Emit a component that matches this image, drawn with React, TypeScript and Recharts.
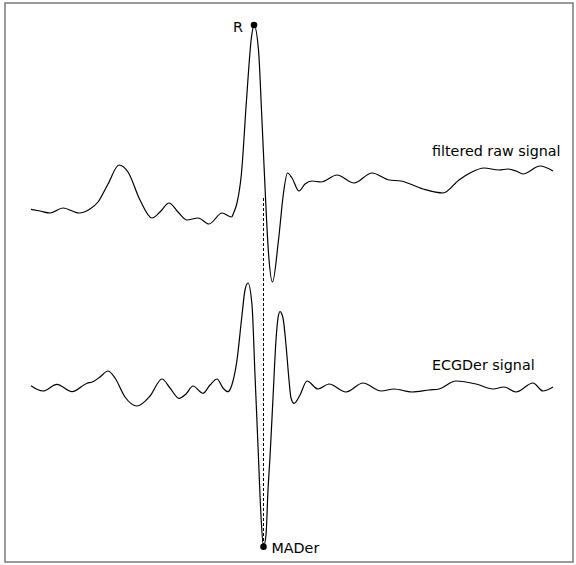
import React from "react";
import {
  ComposedChart,
  Line,
  XAxis,
  YAxis,
  ReferenceDot,
  ReferenceLine,
  ReferenceArea,
} from "recharts";

// time in ms relative to the R peak
const rawTime = [
  -446, -428, -408, -382, -350, -328, -312, -292, -270, -252, -228, -204, -188,
  -170, -152, -134, -112, -90, -64, -45, -40, -34, -25, -15, -5, 0, 9, 15, 22,
  29, 37, 49, 59, 67, 76, 90, 102, 116, 134, 166, 200, 236, 270, 294, 338, 378,
  410, 432, 460, 490, 508, 524, 538, 572, 598,
];
// filtered raw signal (plotted with display offset)
const rawValue = [
  3.527, 3.51, 3.49, 3.54, 3.49, 3.53, 3.6, 3.78, 3.97, 3.9, 3.62, 3.44, 3.5,
  3.59, 3.5, 3.42, 3.44, 3.38, 3.49, 3.45, 3.5, 3.59, 3.89, 4.62, 5.25, 5.37,
  5.12, 4.52, 3.75, 3.09, 2.8, 3.22, 3.69, 3.89, 3.84, 3.71, 3.78, 3.81, 3.8,
  3.87, 3.79, 3.89, 3.82, 3.81, 3.73, 3.69, 3.82, 3.89, 3.94, 3.92, 3.93, 3.91,
  3.88, 3.96, 3.91,
];

const derTime = [
  -446, -422, -394, -364, -334, -322, -308, -292, -278, -258, -234, -208, -184,
  -168, -150, -136, -122, -102, -88, -74, -62, -52, -42, -34, -24, -18, -12, -4,
  2, 8, 14, 19, 24, 28, 32, 38, 44, 48, 52, 58, 64, 70, 74, 80, 92, 106, 128,
  150, 184, 218, 254, 280, 316, 350, 370, 404, 444, 478, 500, 524, 558, 578,
  598,
];
// ECGDer signal (plotted with display offset)
const derValue = [
  1.763, 1.71, 1.777, 1.703, 1.787, 1.803, 1.85, 1.91, 1.84, 1.65, 1.56, 1.66,
  1.83, 1.74, 1.637, 1.68, 1.76, 1.687, 1.77, 1.83, 1.74, 1.703, 1.81, 2.02,
  2.47, 2.72, 2.79, 2.57, 1.87, 1.16, 0.46, 0.153, 0.27, 0.72, 1.05, 1.64, 2.22,
  2.44, 2.503, 2.44, 2.17, 1.82, 1.64, 1.587, 1.67, 1.81, 1.73, 1.78, 1.7, 1.79,
  1.71, 1.73, 1.7, 1.72, 1.73, 1.81, 1.78, 1.73, 1.75, 1.7, 1.79, 1.71, 1.75,
];

const rPeak = { t: 0, v: 5.37, label: "R" };
const maDer = { t: 19, v: 0.153, label: "MADer" };
const dashTop = 3.64;
const seriesLabels = [
  { t: 356, v: 4.06, text: "filtered raw signal" },
  { t: 356, v: 1.92, text: "ECGDer signal" },
];

const xDomain = [-498, 638];
const yDomain = [0, 5.59];

const rawData = rawTime.map((t, i) => ({ t, v: rawValue[i] }));
const derData = derTime.map((t, i) => ({ t, v: derValue[i] }));

const FONT = "DejaVu Sans";
const FS = 14.3;

export default function App() {
  return (
    <div style={{ position: "absolute", left: 0, top: 0, background: "#fff" }}>
      <ComposedChart
        width={576}
        height={565}
        margin={{ top: 3, right: 3, bottom: 3, left: 5 }}
      >
        <XAxis
          type="number"
          dataKey="t"
          domain={xDomain}
          allowDataOverflow
          hide
        />
        <YAxis type="number" domain={yDomain} allowDataOverflow hide />
        <ReferenceArea
          x1={xDomain[0]}
          x2={xDomain[1]}
          y1={yDomain[0]}
          y2={yDomain[1]}
          fill="none"
          fillOpacity={0}
          stroke="#7a7a7a"
          strokeWidth={1.5}
          ifOverflow="visible"
        />
        <ReferenceLine
          segment={[
            { x: maDer.t, y: dashTop },
            { x: maDer.t, y: maDer.v },
          ]}
          stroke="#000"
          strokeWidth={1}
          strokeDasharray="3 2"
        />
        <Line
          data={rawData}
          dataKey="v"
          type="monotone"
          stroke="#000"
          strokeWidth={1.2}
          dot={false}
          isAnimationActive={false}
        />
        <Line
          data={derData}
          dataKey="v"
          type="monotone"
          stroke="#000"
          strokeWidth={1.2}
          dot={false}
          isAnimationActive={false}
        />
        <ReferenceDot
          x={rPeak.t}
          y={rPeak.v}
          ifOverflow="visible"
          shape={(p: any) => (
            <g>
              <circle cx={p.cx} cy={p.cy} r={3.3} fill="#000" />
              <text
                x={p.cx - 11}
                y={p.cy + 6.5}
                textAnchor="end"
                fontFamily={FONT}
                fontSize={FS}
                fill="#000"
              >
                {rPeak.label}
              </text>
            </g>
          )}
        />
        <ReferenceDot
          x={maDer.t}
          y={maDer.v}
          ifOverflow="visible"
          shape={(p: any) => (
            <g>
              <circle cx={p.cx} cy={p.cy} r={3.3} fill="#000" />
              <text
                x={p.cx + 8}
                y={p.cy + 6.5}
                textAnchor="start"
                fontFamily={FONT}
                fontSize={FS}
                fill="#000"
              >
                {maDer.label}
              </text>
            </g>
          )}
        />
        {seriesLabels.map((s) => (
          <ReferenceDot
            key={s.text}
            x={s.t}
            y={s.v}
            ifOverflow="visible"
            shape={(p: any) => (
              <text
                x={p.cx}
                y={p.cy}
                textAnchor="start"
                fontFamily={FONT}
                fontSize={FS}
                fill="#000"
              >
                {s.text}
              </text>
            )}
          />
        ))}
      </ComposedChart>
    </div>
  );
}
